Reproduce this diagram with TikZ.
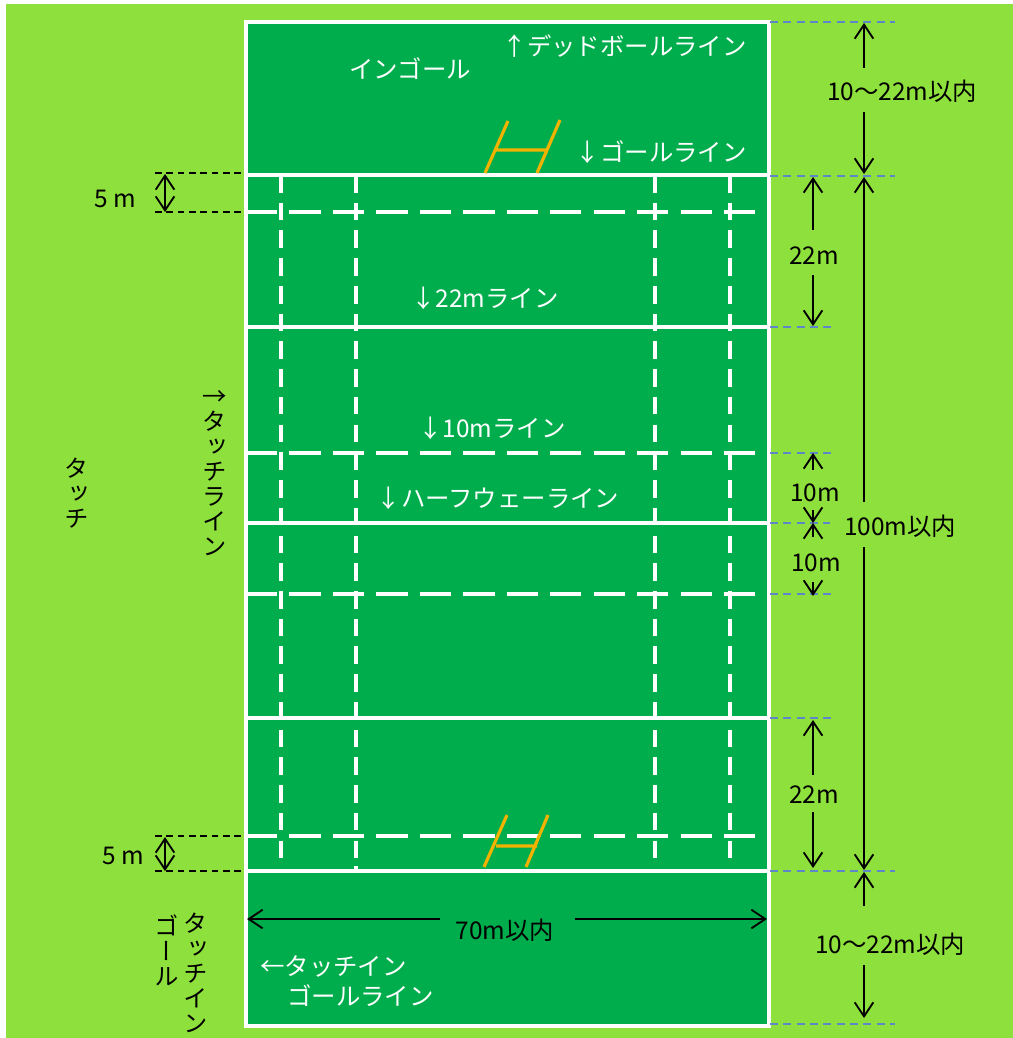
\documentclass[tikz,border=0pt]{standalone}
\usepackage{fontspec}
\setmainfont{Noto Sans CJK JP}
\newfontfamily\vertfont[RawFeature={+vert}]{Noto Sans CJK JP}
\usetikzlibrary{arrows.meta}
\definecolor{turf}{HTML}{8EE03C}
\definecolor{field}{HTML}{00AD4C}
\definecolor{guide}{HTML}{5F86C8}
\definecolor{post}{HTML}{F2B200}
\tikzset{
  x=0.75pt,y=-0.75pt,
  solidline/.style={draw=white,line width=2.8pt},
  hdash/.style={draw=white,line width=2.8pt,dash pattern=on 23.4pt off 9.2pt},
  vdash/.style={draw=white,line width=2.8pt,dash pattern=on 13.2pt off 7.6pt},
  goalpost/.style={draw=post,line width=2.4pt},
  guideline/.style={draw=guide,line width=1pt,dash pattern=on 6pt off 4pt},
  blackguide/.style={draw=black,line width=1pt,dash pattern=on 5pt off 3.5pt},
  dim/.style={draw=black,line width=1.4pt,-{Straight Barb[length=10.5pt,width=14pt,line width=1.4pt]}},
  wlab/.style={text=white,inner sep=0pt,font=\fontsize{18.3}{18.3}\selectfont},
  blab/.style={text=black,inner sep=0pt,font=\fontsize{18.3}{18.3}\selectfont},
  vlab/.style={text=black,inner sep=0pt,align=center,font=\fontsize{18.3}{18.75}\vertfont},
}
\begin{document}
\begin{tikzpicture}
\useasboundingbox (0,0) rectangle (1013,1038);
\fill[white] (0,0) rectangle (1013,1038);
\fill[turf] (6,4) rectangle (1013,1038);
\fill[field] (246,22) rectangle (769,1026);
% dashed field lines
\foreach \yy in {212,453,594,836} \draw[hdash] (246,\yy) -- (758,\yy);
\foreach \xx in {281,356,655,730} \draw[vdash] (\xx,175) -- (\xx,858);
\draw[vdash] (356,866) -- (356,871);
% solid lines
\foreach \yy in {175,327,523,718,871} \draw[solidline] (246,\yy) -- (769,\yy);
\draw[solidline] (246,22) rectangle (769,1026);
% goals
\draw[goalpost] (485,173) -- (508,121) (537,173) -- (560,120) (496,150) -- (548,150);
\draw[goalpost] (484,867) -- (507,815) (526,867) -- (548,815) (496,846) -- (537,846);
% guides
\foreach \yy/\xe in {22/895,176/895,327/832,453/832,523/830,594/832,718/832,871/895,1024/895}
  \draw[guideline] (770,\yy) -- (\xe,\yy);
\foreach \yy in {173,212,836,871} \draw[blackguide] (155,\yy) -- (245,\yy);
% dimensions
\draw[dim] (864,68) -- (864,23);
\draw[dim] (864,112) -- (864,174);
\draw[dim] (864,502) -- (864,177);
\draw[dim] (864,547) -- (864,870);
\draw[dim] (864,906) -- (864,872);
\draw[dim] (864,965) -- (864,1018);
\draw[dim] (813,230) -- (813,177);
\draw[dim] (813,275) -- (813,326);
\draw[dim] (813,775) -- (813,720);
\draw[dim] (813,812) -- (813,868);
\draw[dim] (813,470) -- (813,453);
\draw[dim] (813,510) -- (813,523);
\draw[dim] (813,537) -- (813,523);
\draw[dim] (813,582) -- (813,596);
\draw[dim] (440,919) -- (247,919);
\draw[dim] (575,919) -- (767,919);
\draw[dim] (165,192) -- (165,174);
\draw[dim] (165,192) -- (165,212);
\draw[dim] (165,854) -- (165,837);
\draw[dim] (165,854) -- (165,871);
% white labels
\node[wlab] (ingoal) at (410,69) {インゴール};
\node[wlab,anchor=east] (deadball) at (747,46) {↑デッドボールライン};
\node[wlab,anchor=east] (goalline) at (747,152) {↓ゴールライン};
\node[wlab] (line22) at (485,298) {↓22mライン};
\node[wlab] (line10) at (492,428) {↓10mライン};
\node[wlab] (halfway) at (498,498) {↓ハーフウェーライン};
\node[wlab,anchor=west] (tig1) at (260,966) {←タッチイン};
\node[wlab,anchor=west] (tig2) at (287,996) {ゴールライン};
% black labels
\node[blab] (w70) at (505,930) {70m以内};
\node[blab] (top1022) at (902,91) {10～22m以内};
\node[blab] (bot1022) at (890,944) {10～22m以内};
\node[blab] (h100) at (900,526) {100m以内};
\node[blab] (t22) at (814,256) {22m};
\node[blab] (b22) at (814,795) {22m};
\node[blab] (t10) at (815,493) {10m};
\node[blab] (b10) at (816,563) {10m};
\node[blab] (t5) at (115,199) {5 m};
\node[blab] (b5) at (123,856) {5 m};
% vertical labels
\node[vlab] (touch) at (77,493) {タ\\ッ\\チ};
\node[vlab] (touchline) at (215,473) {→\\タ\\ッ\\チ\\ラ\\イ\\ン};
\node[vlab] (tig3) at (167,950) {ゴ\\ー\\ル};
\node[vlab] (tig4) at (196,973) {タ\\ッ\\チ\\イ\\ン};
\end{tikzpicture}
\end{document}
